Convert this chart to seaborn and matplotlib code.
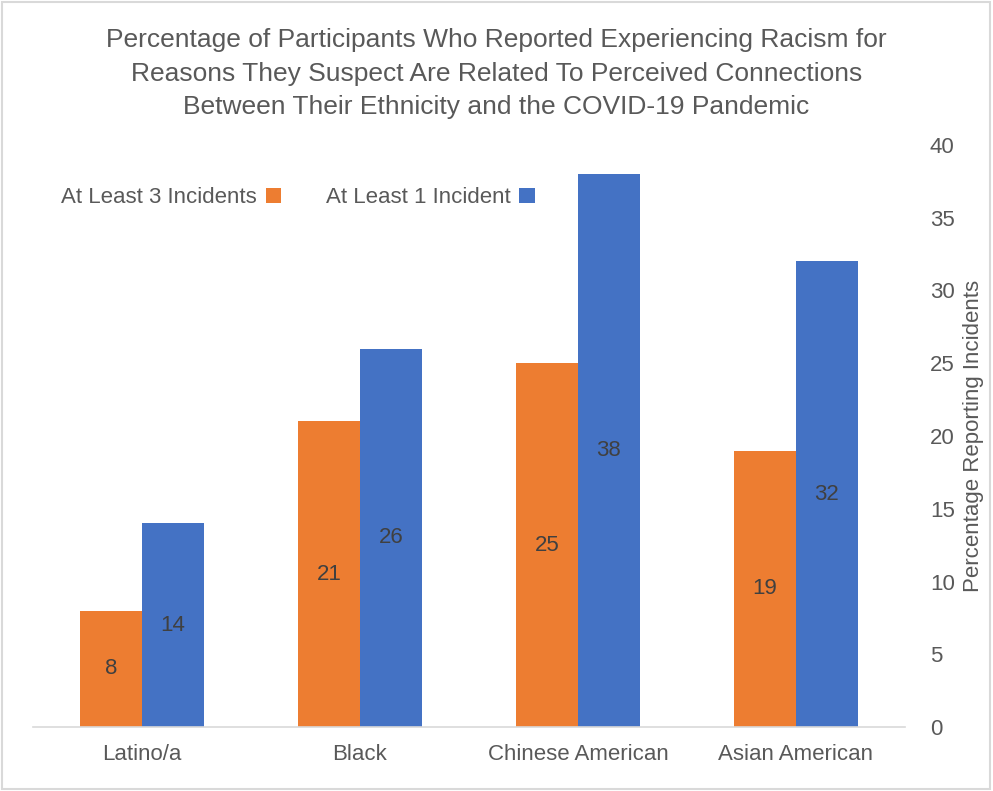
import pandas as pd
import seaborn as sns
import matplotlib.pyplot as plt
from matplotlib.patches import Rectangle

# data (layout is mirrored like the reference: y axis on right)
groups = ['Latino/a', 'Black', 'Chinese American', 'Asian American']
at_least_3 = [8, 21, 25, 19]
at_least_1 = [14, 26, 38, 32]
series = ['At Least 3 Incidents', 'At Least 1 Incident']
colors = ['#ED7D31', '#4472C4']
y_ticks = [0, 5, 10, 15, 20, 25, 30, 35, 40]

df = pd.DataFrame({
    'group': groups * 2,
    'series': [series[0]] * 4 + [series[1]] * 4,
    'value': at_least_3 + at_least_1,
})

sns.set_style('white')
plt.rcParams['font.family'] = ['Liberation Sans', 'DejaVu Sans']
txt = '#595959'

fig = plt.figure(figsize=(9.93, 7.91), dpi=100)
ax = fig.add_axes([0.0332, 0.0809, 0.878, 0.7358])

sns.barplot(data=df, x='group', y='value', hue='series', order=groups,
            hue_order=series, palette=colors, width=0.57, saturation=1,
            linewidth=0, ax=ax, legend=True)

for c in ax.containers:
    ax.bar_label(c, label_type='center', fontsize=16, color='#404040')

ax.set_ylim(0, 40)
ax.set_yticks(y_ticks)
ax.yaxis.tick_right()
ax.yaxis.set_label_position('right')
ax.set_ylabel('Percentage Reporting Incidents', rotation=90, labelpad=6,
              fontsize=16, color=txt)
ax.set_xlabel('')
ax.tick_params(axis='y', length=0, pad=18, labelsize=16, labelcolor=txt)
ax.tick_params(axis='x', length=0, pad=12, labelsize=16, labelcolor=txt)
for s in ['top', 'left', 'right']:
    ax.spines[s].set_visible(False)
ax.spines['bottom'].set_color('#D9D9D9')
ax.spines['bottom'].set_linewidth(1.2)

ax.get_legend().remove()
handles, labels = ax.get_legend_handles_labels()
fig.legend(handles, labels, loc='center', bbox_to_anchor=(0.3, 0.75), ncol=2,
           frameon=False, markerfirst=False, fontsize=16, labelcolor=txt,
           handlelength=0.7, handleheight=0.7, columnspacing=2.0, handletextpad=0.4)

fig.text(0.5, 0.964,
         'Percentage of Participants Who Reported Experiencing Racism for\n'
         'Reasons They Suspect Are Related To Perceived Connections\n'
         'Between Their Ethnicity and the COVID-19 Pandemic',
         ha='center', va='top', fontsize=19, color=txt, linespacing=1.5)

fig.patches.append(Rectangle((0.002, 0.002), 0.995, 0.995, transform=fig.transFigure,
                             fill=False, edgecolor='#D9D9D9', linewidth=1.5))

fig.savefig('out.png', dpi=100)
